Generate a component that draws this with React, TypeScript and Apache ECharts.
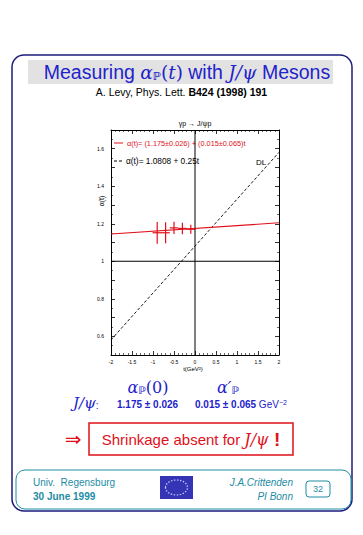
import React, { useEffect, useRef } from 'react';
import * as echarts from 'echarts';

// ---- data ----
const xTickLabels = ['-2', '-1.5', '-1', '-0.5', '0', '0.5', '1', '1.5', '2'];
const yTickLabels = ['0.6', '0.8', '1', '1.2', '1.4', '1.6'];
const tPoints = [-0.9, -0.7, -0.5, -0.3, -0.1];
const alphaPoints = [1.152, 1.152, 1.178, 1.175, 1.171];
const alphaErrors = [0.058, 0.056, 0.033, 0.031, 0.024];
const tErrors = [0.11, 0.1, 0.1, 0.1, 0.11];
const fitT = [-2, 2];
const fitAlpha = [1.145, 1.205];
const dlAlpha = [0.5808, 1.5808];
const xRange = [-2, 2];
const yRange = [0.5, 1.7];
const refT = 0;
const refAlpha = 1;

const RED = '#e0101a';
const BLUE = '#2222cc';
const TEAL = '#1d8ca3';
const NAVY = '#1c1c7c';

export default function App() {
  const ref = useRef<HTMLDivElement>(null);
  useEffect(() => {
    if (!ref.current) return;
    const chart = echarts.init(ref.current, undefined, { renderer: 'svg' });
    const xLabel = (v: number) => {
      const i = xTickLabels.findIndex((s) => Math.abs(parseFloat(s) - v) < 1e-6);
      return i >= 0 ? xTickLabels[i] : '';
    };
    const yLabel = (v: number) => {
      const i = yTickLabels.findIndex((s) => Math.abs(parseFloat(s) - v) < 1e-6);
      return i >= 0 ? yTickLabels[i] : '';
    };
    const axisCommon = {
      type: 'value' as const,
      axisLine: { show: true, onZero: false, lineStyle: { color: '#000', width: 1 } },
      axisTick: { show: true, inside: true, length: 4, lineStyle: { color: '#000', width: 0.8 } },
      minorTick: { show: true, length: 2, lineStyle: { color: '#000', width: 0.6 } },
      splitLine: { show: false },
    };
    const option: any = {
      animation: false,
      backgroundColor: '#fff',
      grid: { left: 111, top: 130, width: 168, height: 225 },
      xAxis: [
        {
          ...axisCommon,
          min: xRange[0], max: xRange[1], interval: 0.5,
          minorTick: { ...axisCommon.minorTick, splitNumber: 5 },
          axisLabel: { formatter: xLabel, fontSize: 5, color: '#000', margin: 4, fontFamily: 'Liberation Sans' },
        },
        {
          ...axisCommon,
          position: 'top',
          min: xRange[0], max: xRange[1], interval: 0.5,
          minorTick: { ...axisCommon.minorTick, splitNumber: 5 },
          axisLabel: { show: false },
        },
      ],
      yAxis: [
        {
          ...axisCommon,
          min: yRange[0], max: yRange[1], interval: 0.1,
          minorTick: { ...axisCommon.minorTick, splitNumber: 2 },
          axisLabel: { formatter: yLabel, fontSize: 5, color: '#000', margin: 7, fontFamily: 'Liberation Sans' },
        },
        {
          ...axisCommon,
          position: 'right',
          min: yRange[0], max: yRange[1], interval: 0.1,
          minorTick: { ...axisCommon.minorTick, splitNumber: 2 },
          axisLabel: { show: false },
        },
      ],
      series: [
        {
          type: 'line', symbol: 'none', silent: true,
          data: [[refT, yRange[0]], [refT, yRange[1]]],
          lineStyle: { color: '#000', width: 1 },
        },
        {
          type: 'line', symbol: 'none', silent: true,
          data: [[xRange[0], refAlpha], [xRange[1], refAlpha]],
          lineStyle: { color: '#000', width: 1 },
        },
        {
          type: 'line', symbol: 'none', silent: true,
          data: fitT.map((t, i) => [t, dlAlpha[i]]),
          lineStyle: { color: '#000', width: 0.9, type: [3, 2] },
        },
        {
          type: 'line', symbol: 'none', silent: true,
          data: fitT.map((t, i) => [t, fitAlpha[i]]),
          lineStyle: { color: RED, width: 1.1 },
        },
        {
          type: 'custom',
          encode: { x: 0, y: 1 },
          data: tPoints.map((t, i) => [t, alphaPoints[i], alphaErrors[i], tErrors[i]]),
          renderItem: (params: any, api: any) => {
            const t = api.value(0), a = api.value(1), ea = api.value(2), et = api.value(3);
            const top = api.coord([t, a + ea]);
            const bot = api.coord([t, a - ea]);
            const l = api.coord([t - et, a]);
            const r = api.coord([t + et, a]);
            const st = { stroke: RED, lineWidth: 1.2 };
            return {
              type: 'group',
              children: [
                { type: 'line', shape: { x1: top[0], y1: top[1], x2: bot[0], y2: bot[1] }, style: st },
                { type: 'line', shape: { x1: l[0], y1: l[1], x2: r[0], y2: r[1] }, style: st },
              ],
            };
          },
        },
      ],
      graphic: [
        // outer frame
        { type: 'rect', shape: { x: 12, y: 55, width: 340, height: 456, r: 12 }, style: { fill: 'none', stroke: NAVY, lineWidth: 1.5 } },
        // title background
        { type: 'rect', shape: { x: 28, y: 60, width: 305, height: 24 }, style: { fill: '#e2e2e2' } },
        {
          type: 'text', x: 187, y: 72,
          style: {
            text: '{s|Measuring }{m|α}{sub|ℙ}{r|(}{m|t}{r|)}{s| with }{m|J/ψ}{s| Mesons}',
            align: 'center', verticalAlign: 'middle', fill: BLUE,
            rich: {
              s: { fontFamily: 'Liberation Sans', fontSize: 19.5, fill: BLUE, verticalAlign: 'middle' },
              m: { fontFamily: 'DejaVu Serif', fontStyle: 'italic', fontSize: 18.5, fill: BLUE, verticalAlign: 'middle' },
              r: { fontFamily: 'DejaVu Serif', fontSize: 18.5, fill: BLUE, verticalAlign: 'middle' },
              sub: { fontFamily: 'DejaVu Sans', fontWeight: 'bold', fontSize: 11, fill: BLUE, verticalAlign: 'bottom' },
            },
          },
        },
        {
          type: 'text', x: 181.5, y: 92,
          style: {
            text: '{n|A. Levy, Phys. Lett. }{b|B424 (1998) 191}',
            align: 'center', verticalAlign: 'middle',
            rich: {
              n: { fontFamily: 'Liberation Sans', fontSize: 10.5, fill: '#000' },
              b: { fontFamily: 'Liberation Sans', fontSize: 10.5, fontWeight: 'bold', fill: '#000' },
            },
          },
        },
        // plot title
        { type: 'text', x: 195, y: 123, style: { text: 'γp → J/ψp', fontFamily: 'Liberation Sans', fontSize: 7, fill: '#000', align: 'center', verticalAlign: 'middle' } },
        // legend
        { type: 'line', shape: { x1: 114, y1: 143, x2: 123, y2: 143 }, style: { stroke: RED, lineWidth: 1 } },
        { type: 'text', x: 127, y: 143, style: { text: 'α(t)= (1.175±0.026) + (0.015±0.065)t', fontFamily: 'Liberation Sans', fontSize: 7.3, fill: RED, align: 'left', verticalAlign: 'middle' } },
        { type: 'line', shape: { x1: 114, y1: 161, x2: 122, y2: 161 }, style: { stroke: '#000', lineWidth: 1, lineDash: [3, 2] } },
        { type: 'text', x: 126, y: 161, style: { text: 'α(t)= 1.0808 + 0.25t', fontFamily: 'Liberation Sans', fontSize: 8.3, fill: '#000', align: 'left', verticalAlign: 'middle' } },
        { type: 'text', x: 261, y: 162, style: { text: 'DL', fontFamily: 'Liberation Sans', fontSize: 8, fill: '#000', align: 'center', verticalAlign: 'middle' } },
        // axis names
        { type: 'text', x: 101, y: 201, rotation: Math.PI / 2, style: { text: 'α(t)', fontFamily: 'Liberation Sans', fontSize: 7, fill: '#000', align: 'center', verticalAlign: 'middle' } },
        { type: 'text', x: 193, y: 369, style: { text: 't(GeV²)', fontFamily: 'Liberation Sans', fontSize: 6, fill: '#000', align: 'center', verticalAlign: 'middle' } },
        // results
        {
          type: 'text', x: 148, y: 387,
          style: {
            text: '{m|α}{sub|ℙ}{r|(0)}', align: 'center', verticalAlign: 'middle',
            rich: {
              m: { fontFamily: 'DejaVu Serif', fontStyle: 'italic', fontSize: 16, fill: BLUE, verticalAlign: 'middle' },
              r: { fontFamily: 'DejaVu Serif', fontSize: 16, fill: BLUE, verticalAlign: 'middle' },
              sub: { fontFamily: 'DejaVu Sans', fontWeight: 'bold', fontSize: 10, fill: BLUE, verticalAlign: 'bottom' },
            },
          },
        },
        {
          type: 'text', x: 228, y: 387,
          style: {
            text: '{m|α′}{sub|ℙ}', align: 'center', verticalAlign: 'middle',
            rich: {
              m: { fontFamily: 'DejaVu Serif', fontStyle: 'italic', fontSize: 16, fill: BLUE, verticalAlign: 'middle' },
              sub: { fontFamily: 'DejaVu Sans', fontWeight: 'bold', fontSize: 10, fill: BLUE, verticalAlign: 'bottom' },
            },
          },
        },
        {
          type: 'text', x: 73, y: 403,
          style: {
            text: '{m|J/ψ}{c|:}', align: 'left', verticalAlign: 'middle',
            rich: {
              m: { fontFamily: 'DejaVu Serif', fontStyle: 'italic', fontSize: 15, fill: BLUE, verticalAlign: 'middle' },
              c: { fontFamily: 'Liberation Sans', fontSize: 10, fill: BLUE, verticalAlign: 'bottom' },
            },
          },
        },
        { type: 'text', x: 117, y: 404, style: { text: '1.175 ± 0.026', fontFamily: 'Liberation Sans', fontWeight: 'bold', fontSize: 10, fill: BLUE, align: 'left', verticalAlign: 'middle' } },
        {
          type: 'text', x: 195, y: 404,
          style: {
            text: '{b|0.015 ± 0.065 }{n|GeV}{sup|−2}', align: 'left', verticalAlign: 'middle',
            rich: {
              b: { fontFamily: 'Liberation Sans', fontWeight: 'bold', fontSize: 10, fill: BLUE, verticalAlign: 'middle' },
              n: { fontFamily: 'Liberation Sans', fontSize: 10, fill: BLUE, verticalAlign: 'middle' },
              sup: { fontFamily: 'Liberation Sans', fontSize: 7, fill: BLUE, verticalAlign: 'top' },
            },
          },
        },
        // conclusion
        { type: 'text', x: 73, y: 439, style: { text: '⇒', fontFamily: 'DejaVu Sans', fontSize: 20, fill: RED, align: 'center', verticalAlign: 'middle' } },
        { type: 'rect', shape: { x: 89, y: 423, width: 204, height: 32 }, style: { fill: 'none', stroke: RED, lineWidth: 1.5 } },
        {
          type: 'text', x: 191, y: 439,
          style: {
            text: '{s|Shrinkage absent for }{m|J/ψ}{b| !}', align: 'center', verticalAlign: 'middle',
            rich: {
              s: { fontFamily: 'Liberation Sans', fontSize: 15, fill: RED, verticalAlign: 'middle' },
              m: { fontFamily: 'DejaVu Serif', fontStyle: 'italic', fontSize: 16, fill: RED, verticalAlign: 'middle' },
              b: { fontFamily: 'Liberation Sans', fontWeight: 'bold', fontSize: 19, fill: RED, verticalAlign: 'middle' },
            },
          },
        },
        // footer
        { type: 'rect', shape: { x: 16, y: 470, width: 335, height: 39, r: 9 }, style: { fill: 'none', stroke: TEAL, lineWidth: 1 } },
        { type: 'text', x: 33, y: 482, style: { text: 'Univ.  Regensburg', fontFamily: 'Liberation Sans', fontSize: 10, fill: TEAL, align: 'left', verticalAlign: 'middle' } },
        { type: 'text', x: 33, y: 496, style: { text: '30 June 1999', fontFamily: 'Liberation Sans', fontWeight: 'bold', fontSize: 10, fill: TEAL, align: 'left', verticalAlign: 'middle' } },
        { type: 'rect', shape: { x: 160, y: 476, width: 33, height: 23 }, style: { fill: '#3434b4' } },
        { type: 'ellipse', shape: { cx: 176.5, cy: 487.5, rx: 11, ry: 7.5 }, style: { fill: 'none', stroke: '#c8c8ff', lineWidth: 1.2, lineDash: [1.5, 1.5] } },
        { type: 'text', x: 293, y: 482, style: { text: 'J.A.Crittenden', fontFamily: 'Liberation Sans', fontStyle: 'italic', fontSize: 10, fill: TEAL, align: 'right', verticalAlign: 'middle' } },
        { type: 'text', x: 293, y: 496, style: { text: 'PI Bonn', fontFamily: 'Liberation Sans', fontStyle: 'italic', fontSize: 10, fill: TEAL, align: 'right', verticalAlign: 'middle' } },
        { type: 'rect', shape: { x: 306, y: 481, width: 24, height: 16, r: 3 }, style: { fill: 'none', stroke: TEAL, lineWidth: 1 } },
        { type: 'text', x: 318, y: 489, style: { text: '32', fontFamily: 'Liberation Sans', fontSize: 9, fill: TEAL, align: 'center', verticalAlign: 'middle' } },
      ],
    };
    chart.setOption(option);
    return () => chart.dispose();
  }, []);
  return <div ref={ref} style={{ position: 'absolute', left: 0, top: 0, width: 363, height: 535, background: '#fff' }} />;
}
